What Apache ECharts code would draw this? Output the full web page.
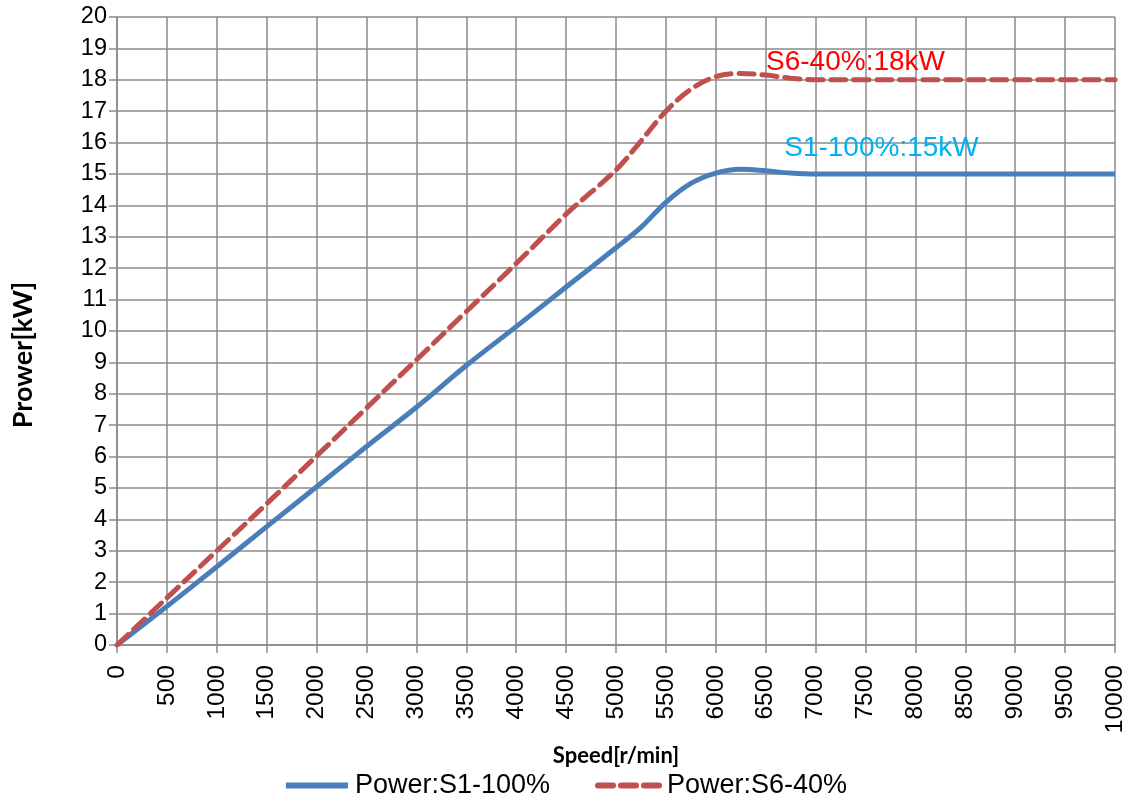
<!DOCTYPE html>
<html><head><meta charset="utf-8">
<script src="https://cdn.jsdelivr.net/npm/echarts@6/dist/echarts.min.js"></script>
<style>html,body{margin:0;padding:0;background:#fff}#c{width:1130px;height:804px}</style>
</head><body><div id="c"></div>
<script>
const speeds   = [0,500,1000,1500,2000,2500,3000,3500,4000,4500,5000,5250,5500,5750,6000,6250,6500,6750,7000,7500,8000,8500,9000,9500,10000];
const powerS1  = [0,1.23,2.49,3.77,5.04,6.32,7.57,8.9,10.14,11.4,12.65,13.3,14.1,14.7,15.03,15.15,15.1,15.03,15.0,15,15,15,15,15,15];
const powerS6  = [0,1.5,3.0,4.5,6.02,7.55,9.08,10.62,12.15,13.72,15.13,16.05,17.0,17.7,18.1,18.2,18.15,18.05,18.0,18,18,18,18,18,18];
const seriesNames = ['Power:S1-100%','Power:S6-40%'];
const annoS6 = {coord:[7400,18.55], text:'S6-40%:18kW'};
const annoS1 = {coord:[7660,15.83], text:'S1-100%:15kW'};
const xTitle = 'Speed[r/min]';
const yTitle = 'Prower[kW]';

const chart = echarts.init(document.getElementById('c'));
const gridColor = '#8a8a8a';
chart.setOption({
  animation:false,
  backgroundColor:'#fff',
  grid:{left:117,right:15,top:17,bottom:159},
  xAxis:{
    type:'value',min:0,max:10000,interval:500,
    name:xTitle,nameLocation:'middle',nameGap:100,
    nameTextStyle:{fontFamily:'Lato',fontWeight:'bold',fontSize:22,color:'#000'},
    axisLine:{lineStyle:{color:gridColor,width:1.5}},
    axisTick:{show:true,length:8,lineStyle:{color:gridColor,width:1.5}},
    axisLabel:{rotate:90,fontFamily:'Liberation Sans',fontSize:24.5,color:'#000',margin:20,formatter:v=>String(v)},
    splitLine:{show:true,lineStyle:{color:gridColor,width:1.5}}
  },
  yAxis:{
    type:'value',min:0,max:20,interval:1,
    name:yTitle,nameLocation:'middle',nameGap:80,nameRotate:90,
    nameTextStyle:{fontFamily:'Lato',fontWeight:'bold',fontSize:27,color:'#000',padding:[0,48,0,0]},
    axisLine:{show:true,lineStyle:{color:gridColor,width:1.5}},
    axisTick:{show:true,length:8,lineStyle:{color:gridColor,width:1.5}},
    axisLabel:{fontFamily:'Liberation Sans',fontSize:23.5,color:'#000',margin:10},
    splitLine:{show:true,lineStyle:{color:gridColor,width:1.5}}
  },
  legend:{
    bottom:0,left:'center',itemWidth:62,itemHeight:14,itemGap:45,
    itemStyle:{opacity:0},
    lineStyle:{width:6},
    textStyle:{fontFamily:'Liberation Sans',fontSize:27,color:'#000',padding:[0,0,0,2]},
    data:seriesNames
  },
  series:[
    {name:seriesNames[0],type:'line',smooth:0.35,symbol:'none',
     data:speeds.map((s,i)=>[s,powerS1[i]]),
     lineStyle:{color:'#4A7EBB',width:5},itemStyle:{color:'#4A7EBB'},
     markPoint:{symbol:'circle',symbolSize:0,silent:true,
       label:{show:true,position:'inside',formatter:annoS1.text,color:'#00B0F0',fontFamily:'Liberation Sans',fontSize:28},
       data:[{coord:annoS1.coord}]}
    },
    {name:seriesNames[1],type:'line',smooth:0.35,symbol:'none',
     data:speeds.map((s,i)=>[s,powerS6[i]]),
     lineStyle:{color:'#C0504D',width:5,type:[15,8],cap:'round'},itemStyle:{color:'#C0504D'},
     markPoint:{symbol:'circle',symbolSize:0,silent:true,
       label:{show:true,position:'inside',formatter:annoS6.text,color:'#FF0000',fontFamily:'Liberation Sans',fontSize:28},
       data:[{coord:annoS6.coord}]}
    }
  ]
});
</script></body></html>
